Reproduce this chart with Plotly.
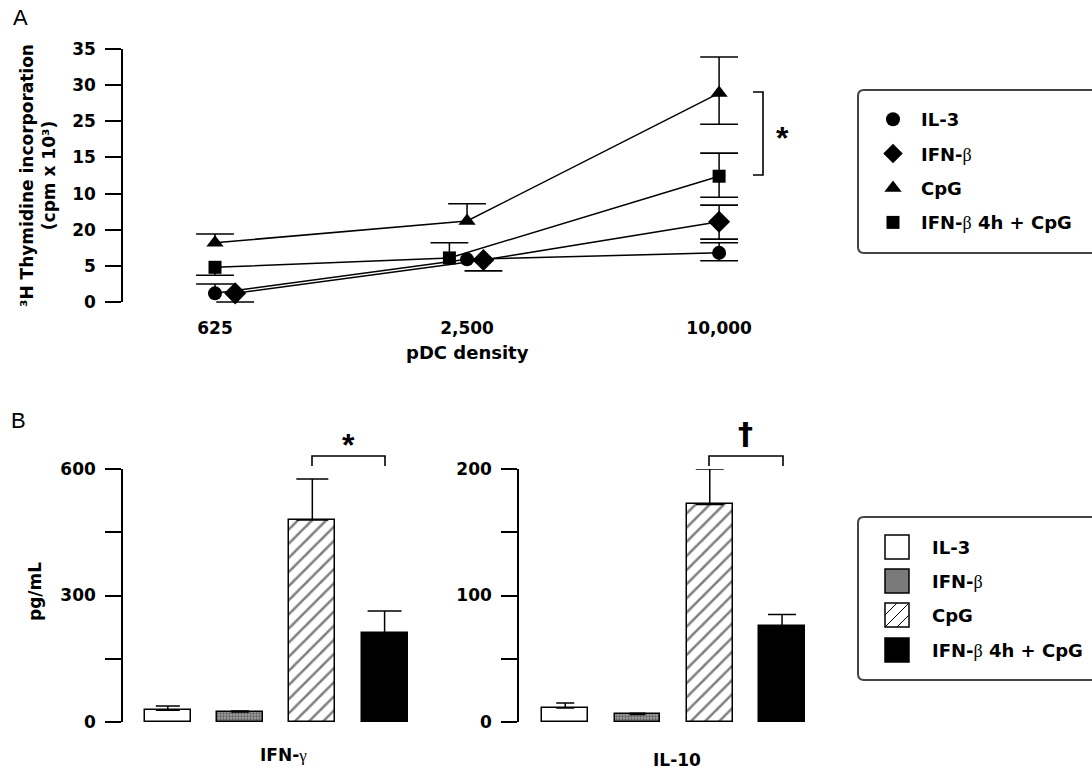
import plotly.graph_objects as go

W, H = 1092, 772
def px(x):
    return x / W
def py(y):
    return 1 - y / H

# ---------------- data ----------------
densities = ["625", "2,500", "10,000"]
density_pos = [0, 1, 2]
a_tickvals = [0, 5, 10, 15, 20, 25, 30, 35]
a_ticktext = ["0", "5", "20", "10", "15", "25", "30", "35"]

treatments = ["IL-3", "IFN-β", "CpG", "IFN-β 4h + CpG"]

il3 = [1.2, 5.9, 6.8]
il3_up = [1.3, 0, 1.4]
il3_dn = [0, 0, 1.1]

ifnb = [1.2, 5.8, 11.1]
ifnb_up = [0, 0, 2.3]
ifnb_dn = [1.2, 1.5, 2.4]

cpg = [8.2, 11.2, 28.9]
cpg_up = [1.2, 2.4, 5.0]
cpg_dn = [0, 0, 4.3]

combo = [4.8, 6.1, 17.4]
combo_up = [0, 2.1, 3.2]
combo_dn = [1.1, 0, 2.9]

cytokines = ["IFN-γ", "IL-10"]
ifng_vals = [28, 24, 479, 211]
ifng_err = [10, 2, 97, 52]
il10_vals = [11, 6, 172, 76]
il10_err = [4, 1, 28, 9]

b_left_ticks = [0, 300, 600]
b_right_ticks = [0, 100, 200]

# ---------------- styles ----------------
FONT = "DejaVu Sans"
BETA = "<span style='font-family:Liberation Serif;font-weight:normal'>β</span>"
GAMMA = "<span style='font-family:Liberation Serif;font-weight:normal'>γ</span>"
def label(name):
    return name.replace("β", BETA).replace("γ", GAMMA)

a_styles = {
    "IL-3": dict(symbol="circle", size=14, dodge=[0, 0, 0]),
    "IFN-β": dict(symbol="diamond", size=17, dodge=[0.08, 0.065, 0]),
    "CpG": dict(symbol="triangle-up", size=15, dodge=[0, 0, 0]),
    "IFN-β 4h + CpG": dict(symbol="square", size=13, dodge=[0, -0.07, 0]),
}
a_series = {
    "IL-3": (il3, il3_up, il3_dn),
    "IFN-β": (ifnb, ifnb_up, ifnb_dn),
    "CpG": (cpg, cpg_up, cpg_dn),
    "IFN-β 4h + CpG": (combo, combo_up, combo_dn),
}

fig = go.Figure()

# ---------------- panel A ----------------
for name in treatments:
    vals, up, dn = a_series[name]
    st = a_styles[name]
    xs = [p + d for p, d in zip(density_pos, st["dodge"])]
    fig.add_trace(go.Scatter(
        x=xs, y=vals, mode="lines+markers", name=name, showlegend=False,
        line=dict(color="black", width=1.5),
        marker=dict(symbol=st["symbol"], size=st["size"], color="black"),
        error_y=dict(type="data", symmetric=False, array=up, arrayminus=dn,
                     width=0, thickness=1.5, color="black"),
        cliponaxis=False, xaxis="x", yaxis="y",
    ))
    # error-bar caps
    cx, cy = [], []
    for x, v, u, d in zip(xs, vals, up, dn):
        if u > 0:
            cx.append(x); cy.append(v + u)
        if d > 0:
            cx.append(x); cy.append(v - d)
    fig.add_trace(go.Scatter(
        x=cx, y=cy, mode="markers", showlegend=False, hoverinfo="skip",
        marker=dict(symbol="line-ew-open", size=27, color="black",
                    line=dict(color="black", width=1.6)),
        cliponaxis=False, xaxis="x", yaxis="y",
    ))

for i, name in enumerate(treatments):
    st = a_styles[name]
    fig.add_trace(go.Scatter(
        x=[None], y=[None], mode="markers", name=label(name), legendgroup=name,
        marker=dict(symbol=st["symbol"], size=min(st["size"], 15), color="black"),
        xaxis="x", yaxis="y",
    ))

# ---------------- panel B ----------------
bar_styles = {
    "IL-3": dict(color="white", pattern=dict(shape="")),
    "IFN-β": dict(color="#a0a0a0", pattern=dict(shape=".", fgcolor="#222222", size=3, solidity=0.45)),
    "CpG": dict(color="white", pattern=dict(shape="/", fgcolor="black", size=10, solidity=0.25)),
    "IFN-β 4h + CpG": dict(color="black", pattern=dict(shape="")),
}
cap_left = [12, 9, 16, 17]
cap_right = [9, 8, 14, 14]

for vals, errs, caps, xa, ya in [
        (ifng_vals, ifng_err, cap_left, "x2", "y2"),
        (il10_vals, il10_err, cap_right, "x3", "y3")]:
    for i, name in enumerate(treatments):
        st = bar_styles[name]
        fig.add_trace(go.Bar(
            x=[i], y=[vals[i]], name=name, showlegend=False, width=0.636,
            marker=dict(color=st["color"], pattern=st["pattern"],
                        line=dict(color="black", width=1.5)),
            error_y=dict(type="data", symmetric=False, array=[errs[i]], arrayminus=[0],
                         width=caps[i], thickness=1.5, color="black"),
            xaxis=xa, yaxis=ya,
        ))

# ---------------- axes ----------------
tickfont = dict(family=FONT, size=17, color="black", weight=700)
common_y = dict(showline=True, linecolor="black", linewidth=1.5, ticks="outside",
                ticklen=16, tickwidth=1.5, tickcolor="black", showgrid=False,
                zeroline=False, tickfont=tickfont, ticklabelstandoff=6, automargin=False)
fig.update_layout(
    xaxis=dict(domain=[px(123), px(830)], range=[-0.365, 2.44], anchor="y",
               tickvals=density_pos, ticktext=densities, showline=False, ticks="",
               showgrid=False, zeroline=False, tickfont=tickfont, ticklabelstandoff=14,
               automargin=False),
    yaxis=dict(domain=[py(302), py(49)], range=[0, 35], anchor="x",
               tickvals=a_tickvals, ticktext=a_ticktext, **common_y),
    xaxis2=dict(domain=[px(123), px(420)], range=[-0.62, 3.49], anchor="y2",
                visible=False, automargin=False),
    yaxis2=dict(domain=[py(722), py(469)], range=[0, 600], anchor="x2",
                tickvals=b_left_ticks,
                minor=dict(dtick=150, ticks="outside", ticklen=16, tickwidth=1.5,
                           tickcolor="black", showgrid=False),
                **common_y),
    xaxis3=dict(domain=[px(519), px(816)], range=[-0.64, 3.47], anchor="y3",
                visible=False, automargin=False),
    yaxis3=dict(domain=[py(722), py(469)], range=[0, 200], anchor="x3",
                tickvals=b_right_ticks,
                minor=dict(dtick=50, ticks="outside", ticklen=16, tickwidth=1.5,
                           tickcolor="black", showgrid=False),
                **common_y),
)

# ---------------- annotations ----------------
def ann(x, y, text, size=17, weight=700, angle=0, xanchor="center", yanchor="middle", family=FONT):
    return dict(x=px(x), y=py(y), xref="paper", yref="paper", text=text, showarrow=False,
                font=dict(family=family, size=size, color="black", weight=weight),
                textangle=angle, xanchor=xanchor, yanchor=yanchor)

annotations = [
    ann(20, 18, "A", size=22, weight=400, family="Liberation Sans"),
    ann(18, 420, "B", size=22, weight=400, family="Liberation Sans"),
    ann(38, 176, "³H Thymidine incorporation<br>(cpm x 10³)", size=17, angle=-90),
    ann(467, 352, "pDC density", size=18),
    ann(35, 592, "pg/mL", angle=-90),
    ann(283, 755, label(cytokines[0])),
    ann(677, 760, label(cytokines[1])),
    ann(782, 138, "*", size=32, family="Liberation Sans"),
    ann(348, 445, "*", size=32, family="Liberation Sans"),
    ann(745, 433, "†", size=30, family="DejaVu Sans"),
]

# manual legend for panel B
leg_rows = [547, 581, 615, 650]
for name, yc in zip(treatments, leg_rows):
    annotations.append(ann(930, yc, label(name), size=18, xanchor="left"))

shapes = []
line_style = dict(color="black", width=1.6)
# significance brackets
shapes.append(dict(type="path", xref="paper", yref="paper",
                   path=f"M{px(753)},{py(92)} L{px(763)},{py(92)} L{px(763)},{py(175)} L{px(753)},{py(175)}",
                   line=line_style))
shapes.append(dict(type="path", xref="paper", yref="paper",
                   path=f"M{px(312)},{py(466)} L{px(312)},{py(456)} L{px(385)},{py(456)} L{px(385)},{py(466)}",
                   line=line_style))
shapes.append(dict(type="path", xref="paper", yref="paper",
                   path=f"M{px(709)},{py(466)} L{px(709)},{py(456)} L{px(783)},{py(456)} L{px(783)},{py(466)}",
                   line=line_style))

def rounded_box(x0, y0, x1, y1, r=6):
    p = (f"M{px(x0 + r)},{py(y0)} L{px(x1 - r)},{py(y0)} Q{px(x1)},{py(y0)} {px(x1)},{py(y0 + r)} "
         f"L{px(x1)},{py(y1 - r)} Q{px(x1)},{py(y1)} {px(x1 - r)},{py(y1)} "
         f"L{px(x0 + r)},{py(y1)} Q{px(x0)},{py(y1)} {px(x0)},{py(y1 - r)} "
         f"L{px(x0)},{py(y0 + r)} Q{px(x0)},{py(y0)} {px(x0 + r)},{py(y0)} Z")
    return dict(type="path", xref="paper", yref="paper", path=p,
                line=dict(color="#444444", width=2), layer="below")

shapes.append(rounded_box(858, 90, 1100, 253))
shapes.append(rounded_box(858, 517, 1100, 680))

# legend B swatches
sw_x0, sw_x1 = 885, 909
for name, yc in zip(treatments, leg_rows):
    y0, y1 = yc - 12, yc + 12
    fill = {"IL-3": "white", "IFN-β": "#7a7a7a", "CpG": "white", "IFN-β 4h + CpG": "black"}[name]
    shapes.append(dict(type="rect", xref="paper", yref="paper",
                       x0=px(sw_x0), x1=px(sw_x1), y0=py(y1), y1=py(y0),
                       fillcolor=fill, line=dict(color="black", width=1.5)))
    if name == "CpG":
        for c in (12, 24, 36):
            xa0, ya0 = max(0, c - 24), min(24, c)
            xa1, ya1 = min(24, c), max(0, c - 24)
            shapes.append(dict(type="line", xref="paper", yref="paper",
                               x0=px(sw_x0 + xa0), y0=py(y0 + ya0),
                               x1=px(sw_x0 + xa1), y1=py(y0 + ya1),
                               line=dict(color="black", width=1)))

fig.update_layout(
    width=W, height=H, margin=dict(l=0, r=0, t=0, b=0, autoexpand=False),
    paper_bgcolor="white", plot_bgcolor="white",
    font=dict(family=FONT, size=17, color="black", weight=700),
    showlegend=True,
    legend=dict(x=px(865), y=py(101), xanchor="left", yanchor="top",
                bgcolor="rgba(0,0,0,0)", borderwidth=0, tracegroupgap=8, itemwidth=46,
                font=dict(family=FONT, size=18, color="black", weight=700),
                itemclick=False, itemdoubleclick=False),
    annotations=annotations, shapes=shapes, bargap=0,
)

fig.write_html("out.html", config={"displayModeBar": False},
               post_script="document.body.style.margin='0px';")
